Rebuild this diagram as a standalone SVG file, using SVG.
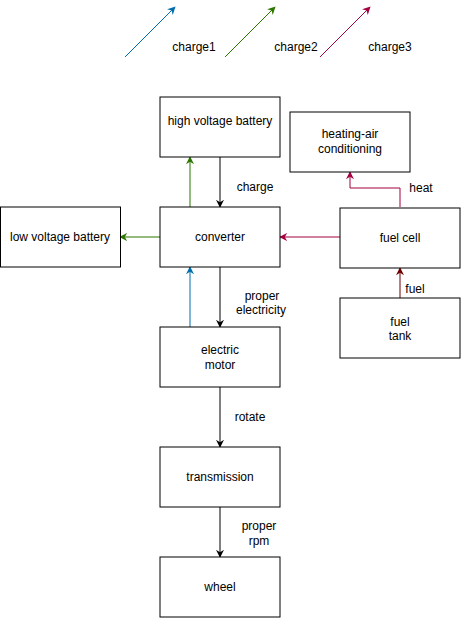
<svg xmlns="http://www.w3.org/2000/svg" width="461" height="619" viewBox="0 0 461 619">
<defs>
<style>
.box{fill:#fff;stroke:#000;stroke-width:1}
text{font-family:"Liberation Sans",Arial,sans-serif;font-size:12px;fill:#000}
.c{text-anchor:middle}
.e{fill:none;stroke-width:1}
</style>
<marker id="ak" viewBox="0 0 10 10" refX="9" refY="5" markerWidth="8" markerHeight="8" markerUnits="userSpaceOnUse" orient="auto"><path d="M0,0 L10,5 L0,10 L3,5 Z" fill="#000"/></marker>
<marker id="ab" viewBox="0 0 10 10" refX="9" refY="5" markerWidth="8" markerHeight="8" markerUnits="userSpaceOnUse" orient="auto"><path d="M0,0 L10,5 L0,10 L3,5 Z" fill="#006EAF"/></marker>
<marker id="ag" viewBox="0 0 10 10" refX="9" refY="5" markerWidth="8" markerHeight="8" markerUnits="userSpaceOnUse" orient="auto"><path d="M0,0 L10,5 L0,10 L3,5 Z" fill="#2D7600"/></marker>
<marker id="ac" viewBox="0 0 10 10" refX="9" refY="5" markerWidth="8" markerHeight="8" markerUnits="userSpaceOnUse" orient="auto"><path d="M0,0 L10,5 L0,10 L3,5 Z" fill="#A50040"/></marker>
<marker id="ad" viewBox="0 0 10 10" refX="9" refY="5" markerWidth="8" markerHeight="8" markerUnits="userSpaceOnUse" orient="auto"><path d="M0,0 L10,5 L0,10 L3,5 Z" fill="#6F0000"/></marker>
</defs>
<g id="connectors">
<path class="e" d="M125,57 L175,7" stroke="#006EAF" marker-end="url(#ab)"/>
<path class="e" d="M225,57 L275,7" stroke="#2D7600" marker-end="url(#ag)"/>
<path class="e" d="M320,57 L370,7" stroke="#A50040" marker-end="url(#ac)"/>
<path class="e" d="M220,157 L220,207" stroke="#000" marker-end="url(#ak)"/>
<path class="e" d="M190,207 L190,157" stroke="#2D7600" marker-end="url(#ag)"/>
<path class="e" d="M160,237 L120,237" stroke="#2D7600" marker-end="url(#ag)"/>
<path class="e" d="M340,237 L280,237" stroke="#A50040" marker-end="url(#ac)"/>
<path class="e" d="M400,207 L400,188 L350,188 L350,172" stroke="#A50040" marker-end="url(#ac)"/>
<path class="e" d="M400,298 L400,268" stroke="#6F0000" marker-end="url(#ad)"/>
<path class="e" d="M220,267 L220,327" stroke="#000" marker-end="url(#ak)"/>
<path class="e" d="M190,327 L190,267" stroke="#006EAF" marker-end="url(#ab)"/>
<path class="e" d="M220,387 L220,447" stroke="#000" marker-end="url(#ak)"/>
<path class="e" d="M220,507 L220,557" stroke="#000" marker-end="url(#ak)"/>
<text x="255" y="191" class="c">charge</text>
<text x="421" y="192" class="c">heat</text>
<text x="415" y="293" class="c">fuel</text>
<text x="262" y="300" class="c">proper</text>
<text x="261" y="314" class="c">electricity</text>
<text x="250" y="421" class="c">rotate</text>
<text x="259" y="530" class="c">proper</text>
<text x="259" y="545" class="c">rpm</text>
</g>
<g id="legend">
<text x="194" y="51" class="c">charge1</text>
<text x="296" y="51" class="c">charge2</text>
<text x="390" y="51" class="c">charge3</text>
</g>
<g id="hvb"><rect class="box" x="160" y="97" width="120" height="60"/><text x="220" y="125" class="c">high voltage battery</text></g>
<g id="converter"><rect class="box" x="160" y="207" width="120" height="60"/><text x="220" y="241" class="c">converter</text></g>
<g id="lvb"><rect class="box" x="0.5" y="207" width="120" height="60"/><text x="60" y="241" class="c">low voltage battery</text></g>
<g id="hvac"><rect class="box" x="290" y="112" width="120" height="60"/><text x="350" y="138" class="c">heating-air</text><text x="350" y="153" class="c">conditioning</text></g>
<g id="fuelcell"><rect class="box" x="340" y="208" width="120" height="60"/><text x="400" y="242" class="c">fuel cell</text></g>
<g id="fueltank"><rect class="box" x="340" y="298" width="120" height="60"/><text x="400" y="326" class="c">fuel</text><text x="400" y="340" class="c">tank</text></g>
<g id="motor"><rect class="box" x="160" y="327" width="120" height="60"/><text x="220" y="354" class="c">electric</text><text x="220" y="369" class="c">motor</text></g>
<g id="transmission"><rect class="box" x="160" y="447" width="120" height="60"/><text x="220" y="481" class="c">transmission</text></g>
<g id="wheel"><rect class="box" x="160" y="557" width="120" height="60"/><text x="220" y="591" class="c">wheel</text></g>
</svg>
